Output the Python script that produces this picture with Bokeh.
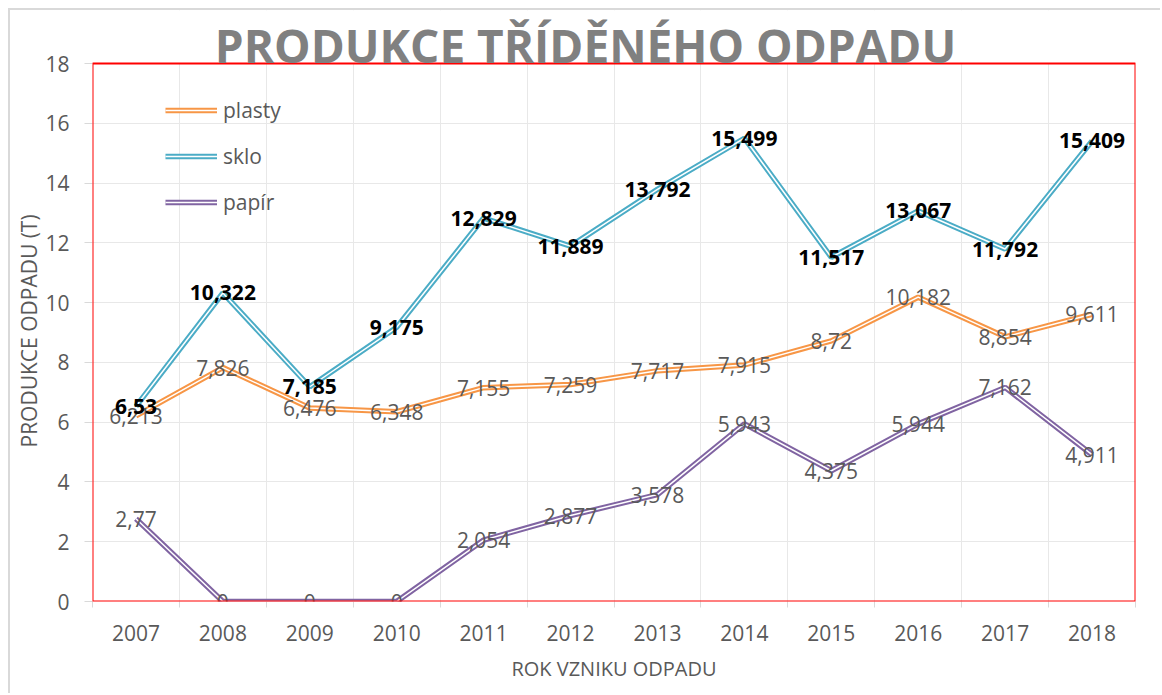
from bokeh.plotting import figure
from bokeh.models import (FixedTicker, Label, Legend, LegendItem, ColumnDataSource,
                          BoxAnnotation, Title)
from bokeh.core.properties import value
from bokeh.embed import file_html
from bokeh.resources import INLINE

years = ["2007", "2008", "2009", "2010", "2011", "2012",
         "2013", "2014", "2015", "2016", "2017", "2018"]
plasty = [6.213, 7.826, 6.476, 6.348, 7.155, 7.259, 7.717, 7.915, 8.72, 10.182, 8.854, 9.611]
sklo = [6.53, 10.322, 7.185, 9.175, 12.829, 11.889, 13.792, 15.499, 11.517, 13.067, 11.792, 15.409]
papir = [2.77, 0, 0, 0, 2.054, 2.877, 3.578, 5.943, 4.375, 5.944, 7.162, 4.911]
y_ticks = [0, 2, 4, 6, 8, 10, 12, 14, 16, 18]
y_max = 18

series = [("plasty", plasty, "#F79646"), ("sklo", sklo, "#4BACC6"), ("papír", papir, "#8064A2")]

FONT = "Open Sans"
GRAY = "#595959"

# layout (pixels): the frame reaches the canvas top so the chart title can sit inside it;
# the red plot-area box spans 0..y_max only.
CANVAS_H = 685
BORDER_BOTTOM = 94
AREA_H = 538          # height of the 0..18 plot area
FRAME_H = CANVAS_H - BORDER_BOTTOM
y_end = y_max * FRAME_H / AREA_H

n = len(years)
xs = list(range(n))
bounds = [i - 0.5 for i in range(n + 1)]

p = figure(width=1152, height=CANVAS_H, x_range=(-0.5, n - 0.5), y_range=(0, y_end),
           output_backend="svg", toolbar_location=None,
           min_border_left=82, min_border_right=27, min_border_top=0,
           min_border_bottom=BORDER_BOTTOM,
           margin=(8, 0, 0, 8),
           styles={"border-left": "2px solid #d9d9d9", "border-top": "2px solid #d9d9d9"})

p.outline_line_color = None
p.background_fill_color = "white"
p.border_fill_color = "white"

p.xgrid.ticker = FixedTicker(ticks=bounds)
p.ygrid.ticker = FixedTicker(ticks=y_ticks)
for g in (p.xgrid, p.ygrid):
    g.grid_line_color = "#e8e8e8"
    g.grid_line_width = 1

# hide the grid above the plot area
cover = BoxAnnotation(left=-0.5, right=n - 0.5, bottom=y_max, top=y_end,
                      fill_color="white", fill_alpha=1, line_color=None, level="underlay")
p.add_layout(cover)

p.yaxis.ticker = FixedTicker(ticks=y_ticks)
p.xaxis.ticker = FixedTicker(ticks=xs, minor_ticks=bounds)
p.xaxis.major_label_overrides = {i: y for i, y in enumerate(years)}

for ax in (p.xaxis[0], p.yaxis[0]):
    ax.axis_line_color = None
    ax.major_label_text_font = FONT
    ax.major_label_text_font_size = "21px"
    ax.major_label_text_color = GRAY
    ax.axis_label_text_font = FONT
    ax.axis_label_text_font_size = "20px"
    ax.axis_label_text_color = GRAY
    ax.axis_label_text_font_style = "normal"

p.yaxis.major_tick_line_color = "#d9d9d9"
p.yaxis.major_tick_out = 8
p.yaxis.major_tick_in = 0
p.yaxis.minor_tick_line_color = None
p.yaxis.major_label_standoff = 15

ytitle = Title(text="PRODUKCE ODPADU (T)", align="left", offset=154, standoff=0,
               vertical_align="bottom", text_font=FONT, text_font_size="21px",
               text_font_style="normal", text_color=GRAY)
p.add_layout(ytitle, "left")

p.xaxis.major_tick_line_color = None
p.xaxis.minor_tick_line_color = "#d9d9d9"
p.xaxis.minor_tick_out = 6
p.xaxis.minor_tick_in = 0
p.xaxis.major_label_standoff = 17
p.xaxis.axis_label = "ROK VZNIKU ODPADU"
p.xaxis.axis_label_standoff = 11

items = []
text_renderers = []
for name, vals, color in series:
    src = ColumnDataSource(dict(x=xs, y=vals,
                                lab=[f"{v:g}".replace(".", ",") for v in vals]))
    r1 = p.line("x", "y", source=src, line_color=color, line_width=5.5)
    r2 = p.line("x", "y", source=src, line_color="white", line_width=1.5)
    items.append(LegendItem(label=name, renderers=[r1, r2]))
    text_renderers.append((name, src))

# red plot-area border
area = BoxAnnotation(left=-0.5, right=n - 0.5, bottom=0, top=y_max,
                     fill_alpha=0, line_color="#ff0000", line_alpha=1, line_width=2)
p.add_layout(area)

for name, src in text_renderers:
    if name == "sklo":
        p.text("x", "y", text="lab", source=src, text_align="center", text_baseline="middle",
               text_font=value(FONT), text_font_size="21px", text_font_style="bold",
               text_color="black")
    else:
        p.text("x", "y", text="lab", source=src, text_align="center", text_baseline="middle",
               text_font=value(FONT), text_font_size="21px", text_color=GRAY)

legend = Legend(items=items, location=(73, 385), margin=0, padding=5,
                glyph_width=52, glyph_height=20, label_height=20, spacing=18,
                label_standoff=6, label_text_font=FONT, label_text_font_size="21px",
                label_text_color=GRAY, border_line_color=None, background_fill_alpha=0)
p.add_layout(legend)

title = Label(x=493, y=557, x_units="screen", y_units="screen",
              text="PRODUKCE TŘÍDĚNÉHO ODPADU", text_align="center",
              text_baseline="middle", text_font=FONT, text_font_size="46px",
              text_font_style="bold", text_color="#808080")
p.add_layout(title)

open("out.html", "w").write(file_html(p, INLINE))
